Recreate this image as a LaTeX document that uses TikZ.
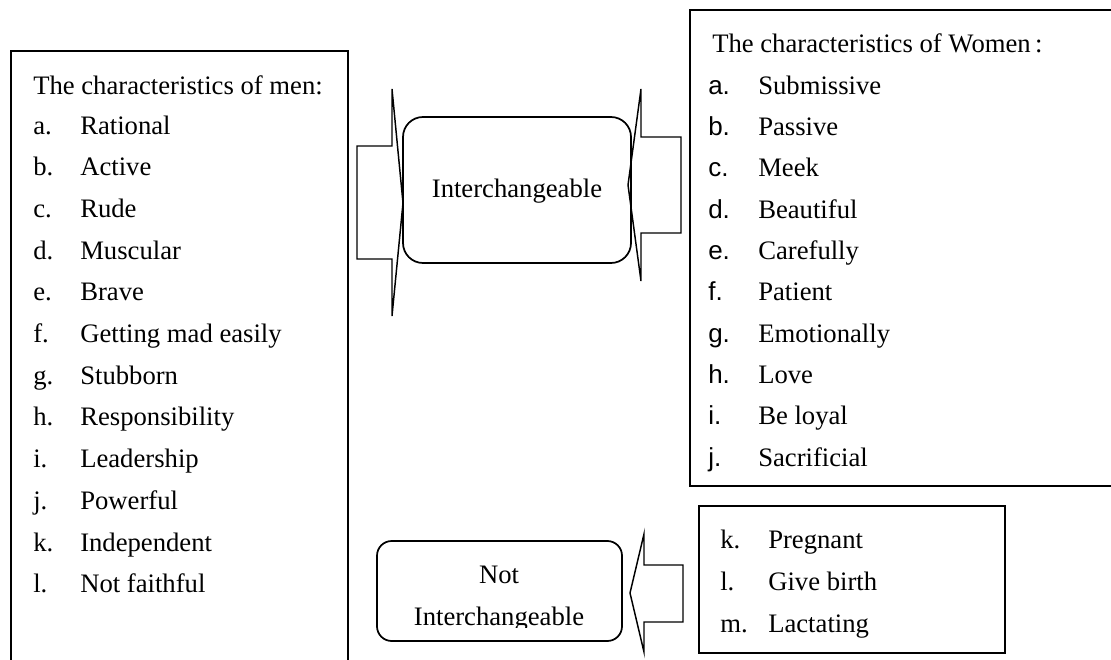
\documentclass[tikz,border=0pt]{standalone}
\usepackage{fontspec}
\setmainfont{Liberation Serif}
\newfontfamily\labsans{Liberation Sans}
\usetikzlibrary{fit}
\begin{document}
\begin{tikzpicture}[x=0.75pt,y=-0.75pt,
  frame/.style={draw, line width=1.5pt, inner sep=0pt, rectangle},
  rframe/.style={draw, line width=1.3pt, inner sep=0pt, rectangle},
  blockarrow/.style={draw, line width=1.1pt, line join=miter},
  txt/.style={anchor=base west, inner sep=0pt, font=\fontsize{20}{24}\selectfont},
  ctxt/.style={anchor=base, inner sep=0pt, font=\fontsize{20}{24}\selectfont},
  lab/.style={anchor=base west, inner sep=0pt, font=\labsans\fontsize{19.5}{22}\selectfont}]
\useasboundingbox (0,0) rectangle (1111,660);
\clip (0,0) rectangle (1111,660);

% boxes
\node[frame, fit={(11,51) (348,690)}] (men) {};
\node[frame, fit={(690,10) (1130,486)}] (women) {};
\node[frame, fit={(699,506) (1005,653)}] (bio) {};
\node[rframe, rounded corners=15pt, fit={(403,117) (631,263)}] (ich) {};
\node[rframe, rounded corners=11pt, fit={(377,541) (622,641)}] (nich) {};

% block arrows
\draw[blockarrow] (357,146) -- (392,146) -- (392,89) -- (403,203) -- (392,316) -- (392,259) -- (357,259) -- cycle;
\draw[blockarrow] (681,137) -- (641,137) -- (641,89) -- (628,185) -- (641,281) -- (641,233) -- (681,233) -- cycle;
\draw[blockarrow] (683,565) -- (644,565) -- (644,534) -- (630,593) -- (644,652) -- (644,622) -- (683,622) -- cycle;

% centre texts
\node[ctxt] (ichtxt) at (517,197) {Interchangeable};
\begin{scope}
\clip (377,541) rectangle (622,627);
\node[ctxt] (nichA) at (499,583) {Not};
\node[ctxt] (nichB) at (499,625) {Interchangeable};
\end{scope}

% men
\node[txt] (mentitle) at (33,94) {The characteristics of men:};
\foreach \l/\t [count=\i from 0] in {a./Rational, b./Active, c./Rude, d./Muscular, e./Brave, f./Getting mad easily, g./Stubborn, h./Responsibility, i./Leadership, j./Powerful, k./Independent, l./Not faithful}{
  \node[txt] (ml\i) at (33,134+41.7*\i) {\l};
  \node[txt] (mi\i) at (80,134+41.7*\i) {\t};
}

% women
\node[txt] (womtitle) at (712,53) {The characteristics of Women\,:};
\foreach \l/\t [count=\i from 0] in {a./Submissive, b./Passive, c./Meek, d./Beautiful, e./Carefully, f./Patient, g./Emotionally, h./Love, i./Be loyal, j./Sacrificial}{
  \node[lab] (wl\i) at (708,94+41.35*\i) {\l};
  \node[txt] (wi\i) at (758,94+41.35*\i) {\t};
}

% biological
\foreach \l/\t [count=\i from 0] in {k./Pregnant, l./Give birth, m./Lactating}{
  \node[txt] (bl\i) at (720,548+42*\i) {\l};
  \node[txt] (bi\i) at (768,548+42*\i) {\t};
}
\end{tikzpicture}
\end{document}
